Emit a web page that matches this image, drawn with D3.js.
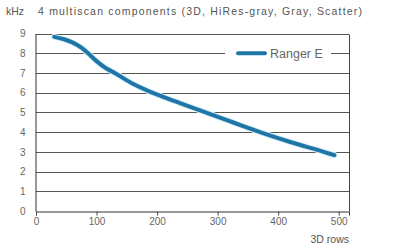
<!DOCTYPE html>
<html><head><meta charset="utf-8">
<script src="https://cdn.jsdelivr.net/npm/d3@7/dist/d3.min.js"></script>
<style>body{margin:0;background:#fff}svg{display:block;font-family:"Liberation Sans",Arial,sans-serif}</style>
</head><body>
<script>
const rows = [30, 45, 60, 75, 86, 100, 115, 130, 160, 192, 240, 280, 325, 370, 420, 475, 493];
const khz = [8.83, 8.72, 8.55, 8.28, 8.0, 7.6, 7.25, 7.0, 6.45, 6.0, 5.45, 5.0, 4.5, 4.0, 3.5, 3.0, 2.83];
const xTicks = [0, 100, 200, 300, 400, 500];
const yTicks = [0, 1, 2, 3, 4, 5, 6, 7, 8, 9];
const seriesName = "Ranger E";
const unit = "kHz";
const title = "4 multiscan components (3D, HiRes-gray, Gray, Scatter)";
const xTitle = "3D rows";

const W = 407, H = 252;
const m = {l: 36, r: 58, t: 33.5, b: 41};
const svg = d3.select("body").append("svg").attr("width", W).attr("height", H);
const x = d3.scaleLinear().domain([0, 517]).range([m.l, W - m.r]);
const y = d3.scaleLinear().domain([0, 9]).range([H - m.b, m.t]);
const grey = "#666";

// gridlines
svg.append("g").selectAll("line").data(yTicks.filter(d => d > 0)).join("line")
  .attr("x1", m.l).attr("x2", W - m.r)
  .attr("y1", d => Math.round(y(d)) + 0.5).attr("y2", d => Math.round(y(d)) + 0.5)
  .attr("stroke", "#555").attr("stroke-width", 1);
// right border
svg.append("line").attr("x1", W - m.r + 0.5).attr("x2", W - m.r + 0.5)
  .attr("y1", Math.round(y(9)) + 0.5).attr("y2", Math.round(y(0)) + 0.5)
  .attr("stroke", "#444");

// axes
const xa = svg.append("g").attr("transform", `translate(0,${Math.round(y(0)) + 0.5})`)
  .call(d3.axisBottom(x).tickValues(xTicks).tickSize(4).tickPadding(2));
const ya = svg.append("g").attr("transform", `translate(${m.l - 0.5},0)`)
  .call(d3.axisLeft(y).tickValues(yTicks).tickSize(0).tickPadding(10));
[xa, ya].forEach(a => {
  a.select(".domain").attr("stroke", "#333");
  a.selectAll(".tick line").attr("stroke", "#444");
  a.selectAll("text").attr("fill", grey).attr("font-size", 10).attr("font-family", "Liberation Sans, Arial, sans-serif");
});

// line
const line = d3.line().x((d, i) => x(rows[i])).y(d => y(d)).curve(d3.curveMonotoneX);
svg.append("path").datum(khz).attr("d", line).attr("fill", "none")
  .attr("stroke", "#d8f0fa").attr("stroke-width", 6).attr("stroke-linecap", "round");
svg.append("path").datum(khz).attr("d", line).attr("fill", "none")
  .attr("stroke", "#1f76a6").attr("stroke-width", 4).attr("stroke-linecap", "round");

// legend
const lg = svg.append("g");
lg.append("rect").attr("x", 225).attr("y", 42).attr("width", 106).attr("height", 24).attr("fill", "#fff");
lg.append("line").attr("x1", 238).attr("x2", 265).attr("y1", y(8)).attr("y2", y(8))
  .attr("stroke", "#1f76a6").attr("stroke-width", 4).attr("stroke-linecap", "round");
lg.append("text").attr("x", 270).attr("y", y(8) + 4.5).attr("font-size", 12.5).attr("fill", grey).text(seriesName);

// titles
svg.append("text").attr("x", 6).attr("y", 15).attr("font-size", 10.5).attr("fill", "#555").text(unit);
svg.append("text").attr("x", 38).attr("y", 15).attr("font-size", 10.5).attr("fill", "#555")
  .attr("textLength", 324).attr("lengthAdjust", "spacing").text(title);
svg.append("text").attr("x", W - m.r).attr("y", 243).attr("text-anchor", "end")
  .attr("font-size", 10.5).attr("fill", "#555").text(xTitle);
</script>
</body></html>
